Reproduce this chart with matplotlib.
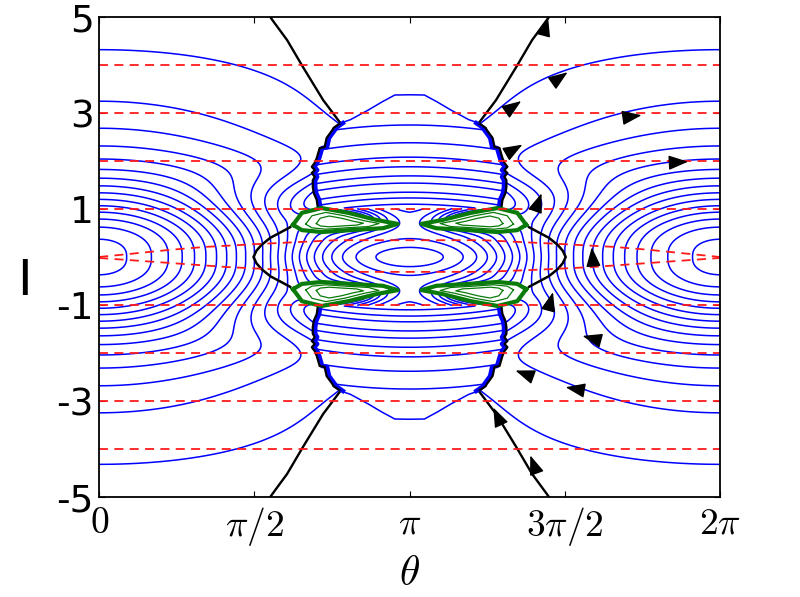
import numpy as np
import matplotlib.pyplot as plt
from matplotlib.path import Path

plt.rcParams['mathtext.fontset'] = 'cm'
plt.rcParams['axes.unicode_minus'] = False

# field parameters (level step = 1)
f0_amp, f0_scale, f0_pow = 14.6, 1.5, 2.6
f0_log_amp, f0_log_scale = 0.3, 1.5
k_core, k_width, k_width_mid, k_pow = 6.7, 1.5, 0.7, 4
k_tail, k_tail_width = 3.5, 2.5
bump_amp, bump_psi, bump_I = 3.6, 1.2, 0.45
dip_amp, dip_psi, dip_I, dip_wpsi, dip_wI = 6.0, 0.65, 0.78, 0.35, 0.2

# band in the middle: centre-column crossings of its lines
band_I = [1.10, 1.23, 1.35, 1.54, 1.69, 1.88, 2.08, 2.38, 2.75]
band_sag = 0.18

# jagged side of the band (psi = distance from pi), upper left quarter
side_I = [2.79, 2.69, 2.65, 2.48, 2.29, 2.27, 2.13, 2.06, 1.96, 1.88, 1.81, 1.75, 1.67, 1.60, 1.46, 1.33, 1.19, 1.04]
side_psi = [0.70, 0.77, 0.78, 0.84, 0.86, 0.91, 0.93, 0.94, 0.96, 0.99, 0.96, 0.99, 0.96, 0.98, 0.98, 0.97, 0.94, 0.93]

# cap on top of the band
cap_psi = [0.0, 0.15, 0.28, 0.42, 0.60, 0.70]
cap_I = [3.38, 3.375, 3.23, 3.06, 2.86, 2.79]

# black outer separatrix
black_psi = [0.70, 0.875, 1.08, 1.24, 1.39, 1.41]
black_I = [2.79, 3.27, 3.96, 4.52, 4.94, 5.0]

# black separatrix round the central island (upper half)
sep_psi = [1.21, 1.30, 1.41, 1.50, 1.55, 1.58]
sep_I = [0.62, 0.52, 0.40, 0.25, 0.13, 0.0]

# green island outline (upper left one)
blob_psi = [1.18, 1.09, 0.89, 0.62, 0.33, 0.12, 0.27, 0.60, 0.89, 1.09, 1.18]
blob_I = [0.67, 0.92, 1.02, 0.92, 0.77, 0.69, 0.60, 0.56, 0.52, 0.56, 0.67]

# red dashed lines
red_levels = [-4, -3, -2, -1, 1, 2, 3, 4]
redA_theta = [0, 0.72, 1.07, 1.6, 2.1, 2.4, np.pi]
redA_I = [0.0, 0.15, 0.21, 0.27, 0.32, 0.35, 0.35]
redB_theta = [0, 0.72, 1.3, 1.9, 2.4, np.pi]
redB_I = [-0.02, -0.125, -0.21, -0.27, -0.31, -0.31]

# arrow heads (theta, I, direction in degrees)
arrow_theta = [4.70, 4.23, 5.44, 4.24, 5.91, 4.46, 4.53, 4.99, 4.58, 4.94, 4.26, 4.77, 4.01, 4.38]
arrow_I = [3.79, 3.19, 2.94, 2.29, 1.98, 1.23, 4.90, 0.10, -0.83, -1.67, -2.40, -2.73, -3.23, -4.23]
arrow_angle = [35, 35, 8, 30, 3, 70, 75, 95, 75, 165, 160, 170, 115, 110]


def field(psi, I):
    aI, ap = np.abs(I), np.abs(psi)
    x = (aI / f0_scale) ** f0_pow
    f0 = f0_amp * x / (1 + x) + f0_log_amp * np.log1p((aI / f0_log_scale) ** 2)
    w = k_width + k_width_mid * np.exp(-(ap / 0.6) ** 2)
    kc = k_core * np.exp(-(aI / w) ** k_pow) + k_tail * np.exp(-(aI / k_tail_width) ** 2)
    bump = bump_amp * np.exp(-(ap / bump_psi) ** 4 - (I / bump_I) ** 2)
    dip = dip_amp * np.exp(-((ap - dip_psi) / dip_wpsi) ** 2 - ((aI - dip_I) / dip_wI) ** 2)
    return f0 + (1 + np.cos(psi)) * kc + bump - dip


theta = np.linspace(0, 2 * np.pi, 900)
I = np.linspace(-5, 5, 800)
T, Ig = np.meshgrid(theta, I)
psi = T - np.pi
ap, aI = np.abs(psi), np.abs(Ig)

H = field(psi, Ig)

# band + region above it, bounded by the black curves
half = np.where(aI <= side_I[0], np.interp(aI, side_I[::-1], side_psi[::-1]),
                np.interp(aI, black_I, black_psi))
region = (aI >= 1.02) & (ap < half)

pts = np.column_stack([T.ravel(), Ig.ravel()])
blobs = []
inblob = np.zeros(T.shape, bool)
for sx in (1, -1):
    for sy in (1, -1):
        vx = np.pi + sx * np.array(blob_psi)
        vy = sy * np.array(blob_I)
        blobs.append((vx, vy))
        inblob |= Path(np.column_stack([vx, vy])).contains_points(pts).reshape(T.shape)

H_out = np.where(region | inblob, np.nan, H)
cap_at = np.interp(ap, cap_psi, cap_I)
H_in = np.where(region & (aI < cap_at), aI + band_sag * psi ** 2, np.nan)

frac = field(np.pi, 0.37) % 1
levels = np.arange(-12, 45) + frac

fig = plt.figure(figsize=(8, 5.97), dpi=100)
ax = fig.add_axes([0.124, 0.1675, 0.776, 0.804])

ax.contour(theta, I, H_out, levels=levels, colors='#0000ff', linewidths=1.1, linestyles='solid')
ax.contour(theta, I, H_in, levels=band_I, colors='#0000ff', linewidths=1.1, linestyles='solid')

# band sides, cap, black curves
sp, si = np.array(side_psi), np.array(side_I)
cp, ci = np.array(cap_psi), np.array(cap_I)
bp, bi = np.array(black_psi), np.array(black_I)
qp, qi = np.array(sep_psi), np.array(sep_I)
for sx in (1, -1):
    ax.plot(np.pi + sx * np.concatenate([qp, qp[::-1]]), np.concatenate([qi, -qi[::-1]]),
            color='k', lw=1.8)
    for sy in (1, -1):
        ax.plot(np.pi + sx * (sp - 0.025), sy * si, color='#0000ff', lw=3.2)
        ax.plot(np.pi + sx * sp, sy * si, color='k', lw=1.6)
        ax.plot(np.pi + sx * bp, sy * bi, color='k', lw=1.7)
for sy in (1, -1):
    ax.plot(np.concatenate([np.pi - cp[::-1], np.pi + cp]), sy * np.concatenate([ci[::-1], ci]),
            color='#0000ff', lw=1.1)

# green islands
for vx, vy in blobs:
    cx, cy = vx.mean(), vy.mean()
    ax.plot(vx, vy, color='#0a7a0a', lw=3.0)
    for s in (0.7, 0.45):
        ax.plot(cx + s * (vx - cx), cy + s * (vy - cy), color='#0a7a0a', lw=0.9)

# red dashed lines
for lv in red_levels:
    ax.plot([0, 2 * np.pi], [lv, lv], color='#ff1a1a', lw=1.3, ls=(0, (5, 3.5)))
for tx, ty in ((redA_theta, redA_I), (redB_theta, redB_I)):
    tx, ty = np.array(tx), np.array(ty)
    ax.plot(np.concatenate([tx, 2 * np.pi - tx[::-1]]), np.concatenate([ty, ty[::-1]]),
            color='#ff1a1a', lw=1.3, ls=(0, (5, 3.5)))

# arrow heads
for x, y, a in zip(arrow_theta, arrow_I, arrow_angle):
    dx = np.cos(np.radians(a)) * 0.05
    dy = np.sin(np.radians(a)) * 0.05 * 98.8 / 48
    ax.annotate('', xy=(x + dx, y + dy), xytext=(x - dx, y - dy),
                arrowprops=dict(arrowstyle='-|>,head_length=0.8,head_width=0.3', color='k',
                                lw=1.0, shrinkA=0, shrinkB=0, mutation_scale=15))

ax.set_xlim(0, 2 * np.pi)
ax.set_ylim(-5, 5)
ax.set_xticks([0, np.pi / 2, np.pi, 3 * np.pi / 2, 2 * np.pi])
ax.set_xticklabels(['$0$', r'$\pi/2$', r'$\pi$', r'$3\pi/2$', r'$2\pi$'])
ax.set_yticks([-5, -3, -1, 1, 3, 5])
ax.tick_params(direction='in', top=True, right=True, length=4, width=0.8, labelsize=27)
ax.tick_params(axis='x', pad=6)
ax.tick_params(axis='y', pad=4)
for s in ax.spines.values():
    s.set_linewidth(1.3)

ax.set_xlabel(r'$\theta$', fontsize=30)
ax.xaxis.set_label_coords(0.5, -0.115)
ax.set_ylabel('I', fontsize=36, rotation=0)
ax.yaxis.set_label_coords(-0.12, 0.40)

fig.savefig('out.png', dpi=100)
